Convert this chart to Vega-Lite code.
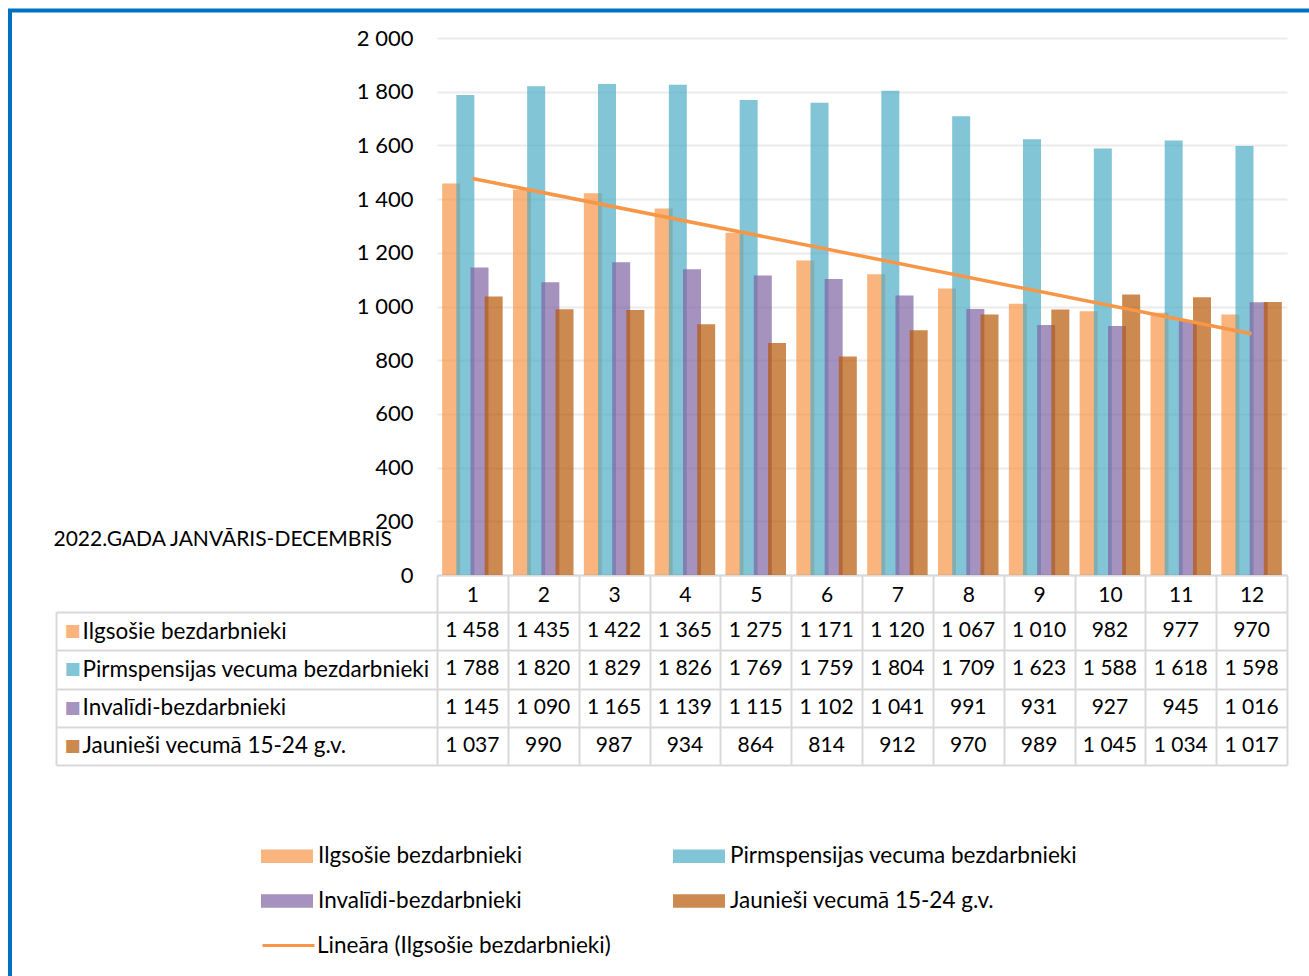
{
  "$schema": "https://vega.github.io/schema/vega-lite/v6.json",
  "autosize": {"type": "none"},
  "padding": {"left": 437, "top": 38, "right": 22, "bottom": 938},
  "background": "white",
  "config": {
    "locale": {"number": {"decimal": ",", "thousands": " ", "grouping": [3], "currency": ["", ""]}},
    "font": "Lato",
    "view": {"stroke": null},
    "legend": {"strokeWidth": 4}
  },
  "datasets": {
    "d": [
      {"month": 1, "series": "Ilgsošie bezdarbnieki", "value": 1458},
      {"month": 1, "series": "Pirmspensijas vecuma bezdarbnieki", "value": 1788},
      {"month": 1, "series": "Invalīdi-bezdarbnieki", "value": 1145},
      {"month": 1, "series": "Jaunieši vecumā 15-24 g.v.", "value": 1037},
      {"month": 2, "series": "Ilgsošie bezdarbnieki", "value": 1435},
      {"month": 2, "series": "Pirmspensijas vecuma bezdarbnieki", "value": 1820},
      {"month": 2, "series": "Invalīdi-bezdarbnieki", "value": 1090},
      {"month": 2, "series": "Jaunieši vecumā 15-24 g.v.", "value": 990},
      {"month": 3, "series": "Ilgsošie bezdarbnieki", "value": 1422},
      {"month": 3, "series": "Pirmspensijas vecuma bezdarbnieki", "value": 1829},
      {"month": 3, "series": "Invalīdi-bezdarbnieki", "value": 1165},
      {"month": 3, "series": "Jaunieši vecumā 15-24 g.v.", "value": 987},
      {"month": 4, "series": "Ilgsošie bezdarbnieki", "value": 1365},
      {"month": 4, "series": "Pirmspensijas vecuma bezdarbnieki", "value": 1826},
      {"month": 4, "series": "Invalīdi-bezdarbnieki", "value": 1139},
      {"month": 4, "series": "Jaunieši vecumā 15-24 g.v.", "value": 934},
      {"month": 5, "series": "Ilgsošie bezdarbnieki", "value": 1275},
      {"month": 5, "series": "Pirmspensijas vecuma bezdarbnieki", "value": 1769},
      {"month": 5, "series": "Invalīdi-bezdarbnieki", "value": 1115},
      {"month": 5, "series": "Jaunieši vecumā 15-24 g.v.", "value": 864},
      {"month": 6, "series": "Ilgsošie bezdarbnieki", "value": 1171},
      {"month": 6, "series": "Pirmspensijas vecuma bezdarbnieki", "value": 1759},
      {"month": 6, "series": "Invalīdi-bezdarbnieki", "value": 1102},
      {"month": 6, "series": "Jaunieši vecumā 15-24 g.v.", "value": 814},
      {"month": 7, "series": "Ilgsošie bezdarbnieki", "value": 1120},
      {"month": 7, "series": "Pirmspensijas vecuma bezdarbnieki", "value": 1804},
      {"month": 7, "series": "Invalīdi-bezdarbnieki", "value": 1041},
      {"month": 7, "series": "Jaunieši vecumā 15-24 g.v.", "value": 912},
      {"month": 8, "series": "Ilgsošie bezdarbnieki", "value": 1067},
      {"month": 8, "series": "Pirmspensijas vecuma bezdarbnieki", "value": 1709},
      {"month": 8, "series": "Invalīdi-bezdarbnieki", "value": 991},
      {"month": 8, "series": "Jaunieši vecumā 15-24 g.v.", "value": 970},
      {"month": 9, "series": "Ilgsošie bezdarbnieki", "value": 1010},
      {"month": 9, "series": "Pirmspensijas vecuma bezdarbnieki", "value": 1623},
      {"month": 9, "series": "Invalīdi-bezdarbnieki", "value": 931},
      {"month": 9, "series": "Jaunieši vecumā 15-24 g.v.", "value": 989},
      {"month": 10, "series": "Ilgsošie bezdarbnieki", "value": 982},
      {"month": 10, "series": "Pirmspensijas vecuma bezdarbnieki", "value": 1588},
      {"month": 10, "series": "Invalīdi-bezdarbnieki", "value": 927},
      {"month": 10, "series": "Jaunieši vecumā 15-24 g.v.", "value": 1045},
      {"month": 11, "series": "Ilgsošie bezdarbnieki", "value": 977},
      {"month": 11, "series": "Pirmspensijas vecuma bezdarbnieki", "value": 1618},
      {"month": 11, "series": "Invalīdi-bezdarbnieki", "value": 945},
      {"month": 11, "series": "Jaunieši vecumā 15-24 g.v.", "value": 1034},
      {"month": 12, "series": "Ilgsošie bezdarbnieki", "value": 970},
      {"month": 12, "series": "Pirmspensijas vecuma bezdarbnieki", "value": 1598},
      {"month": 12, "series": "Invalīdi-bezdarbnieki", "value": 1016},
      {"month": 12, "series": "Jaunieši vecumā 15-24 g.v.", "value": 1017}
    ]
  },
  "bounds": "flush",
  "spacing": 37,
  "vconcat": [
    {
      "width": 850,
      "height": 537,
      "data": {"name": "d"},
      "layer": [
        {
          "mark": {"type": "bar", "width": 18, "opacity": 0.7},
          "encoding": {
            "x": {
              "field": "month", "type": "ordinal",
              "scale": {"paddingInner": 0, "paddingOuter": 0},
              "axis": {
                "orient": "bottom", "title": null, "grid": false,
                "domain": true, "domainColor": "#d9d9d9", "domainWidth": 2,
                "ticks": true, "tickBand": "extent", "tickSize": 37, "tickColor": "#d9d9d9", "tickWidth": 2,
                "labelAngle": 0, "labelFontSize": 21, "labelColor": "#000", "labelPadding": -28
              }
            },
            "xOffset": {
              "field": "series", "type": "nominal",
              "sort": ["Ilgsošie bezdarbnieki", "Pirmspensijas vecuma bezdarbnieki", "Invalīdi-bezdarbnieki", "Jaunieši vecumā 15-24 g.v."],
              "scale": {"type": "point", "padding": 1.43}
            },
            "y": {
              "field": "value", "type": "quantitative",
              "scale": {"domain": [0, 2000]},
              "axis": {
                "values": [0, 200, 400, 600, 800, 1000, 1200, 1400, 1600, 1800, 2000],
                "format": ",d", "ticks": false, "domain": false,
                "grid": true, "gridColor": "#ebebeb", "gridWidth": 2,
                "labelFontSize": 22, "labelColor": "#000", "labelPadding": 24,
                "title": "2022.GADA JANVĀRIS-DECEMBRIS", "titleAngle": 0, "titleAlign": "left",
                "titleBaseline": "middle", "titleX": -384, "titleY": 501,
                "titleFontSize": 21, "titleFontWeight": "normal", "titleColor": "#000"
              }
            },
            "fill": {
              "field": "series", "type": "nominal",
              "scale": {
                "domain": ["Ilgsošie bezdarbnieki", "Pirmspensijas vecuma bezdarbnieki", "Invalīdi-bezdarbnieki", "Jaunieši vecumā 15-24 g.v."],
                "range": ["#F79646", "#4BACC6", "#8064A2", "#B65805"]
              },
              "legend": {
                "orient": "none", "legendX": -176, "legendY": 792,
                "direction": "horizontal",
                "columns": 2, "columnPadding": 150, "rowPadding": 7,
                "symbolType": "M-1,-0.26H1V0.26H-1Z", "symbolSize": 2704,
                "symbolStrokeWidth": 0, "symbolOpacity": 0.7,
                "labelFontSize": 22.5, "labelColor": "#000", "labelOffset": 5,
                "labelLimit": 0, "title": null, "padding": 0
              }
            }
          }
        },
        {
          "transform": [
            {"filter": "datum.series === 'Ilgsošie bezdarbnieki'"},
            {"regression": "value", "on": "month"}
          ],
          "mark": {"type": "line", "strokeWidth": 3.5},
          "encoding": {
            "x": {"field": "month", "type": "ordinal"},
            "y": {"field": "value", "type": "quantitative"},
            "stroke": {
              "datum": "Lineāra (Ilgsošie bezdarbnieki)",
              "scale": {"range": ["#F79646"]},
              "legend": {
                "orient": "none", "legendX": -176, "legendY": 880,
                "symbolType": "stroke", "symbolSize": 2704, "symbolStrokeWidth": 3,
                "labelFontSize": 22.5, "labelColor": "#000", "labelOffset": 1,
                "labelLimit": 0, "title": null, "padding": 0
              }
            }
          }
        }
      ]
    },
    {
      "width": 850,
      "height": 153,
      "data": {"name": "d"},
      "layer": [
        {
          "mark": {"type": "text", "fontSize": 21, "color": "#000"},
          "encoding": {
            "x": {
              "field": "month", "type": "ordinal",
              "scale": {"paddingInner": 0, "paddingOuter": 0},
              "axis": {
                "orient": "top", "title": null, "labels": false, "ticks": false, "domain": false,
                "grid": true, "tickBand": "extent", "gridColor": "#d9d9d9", "gridWidth": 2
              }
            },
            "y": {
              "field": "series", "type": "nominal",
              "sort": ["Ilgsošie bezdarbnieki", "Pirmspensijas vecuma bezdarbnieki", "Invalīdi-bezdarbnieki", "Jaunieši vecumā 15-24 g.v."],
              "scale": {"paddingInner": 0, "paddingOuter": 0},
              "axis": {
                "orient": "left", "title": null, "domain": false,
                "ticks": true, "tickBand": "extent", "tickSize": 381, "tickColor": "#d9d9d9", "tickWidth": 2,
                "grid": true, "gridColor": "#d9d9d9", "gridWidth": 2,
                "labelAlign": "left", "labelPadding": -26, "labelFontSize": 22.5,
                "labelColor": "#000", "labelLimit": 0
              }
            },
            "text": {"field": "value", "type": "quantitative", "format": ",d"}
          }
        },
        {
          "transform": [{"filter": "datum.month === 1"}],
          "mark": {"type": "point", "opacity": 0},
          "encoding": {
            "y": {
              "field": "series", "type": "nominal",
              "sort": ["Ilgsošie bezdarbnieki", "Pirmspensijas vecuma bezdarbnieki", "Invalīdi-bezdarbnieki", "Jaunieši vecumā 15-24 g.v."],
              "axis": {
                "orient": "left", "offset": 381, "title": null,
                "domain": true, "domainColor": "#d9d9d9", "domainWidth": 2,
                "ticks": false, "grid": false,
                "labelExpr": "'■'", "labelAlign": "left", "labelPadding": -8,
                "labelFont": "DejaVu Sans", "labelFontSize": 17,
                "labelColor": {
                  "condition": [
                    {"test": "datum.value === 'Ilgsošie bezdarbnieki'", "value": "#F9B57D"},
                    {"test": "datum.value === 'Pirmspensijas vecuma bezdarbnieki'", "value": "#81C5D7"},
                    {"test": "datum.value === 'Invalīdi-bezdarbnieki'", "value": "#A693BE"}
                  ],
                  "value": "#CC8A50"
                }
              }
            },
            "shape": {
              "datum": "border",
              "legend": {
                "orient": "none", "legendX": -427, "legendY": -27.5,
                "padding": 660, "strokeColor": "#0070C0",
                "symbolOpacity": 0, "labelExpr": "''", "title": null
              }
            }
          }
        }
      ],
      "resolve": {"axis": {"y": "independent"}}
    }
  ]
}
